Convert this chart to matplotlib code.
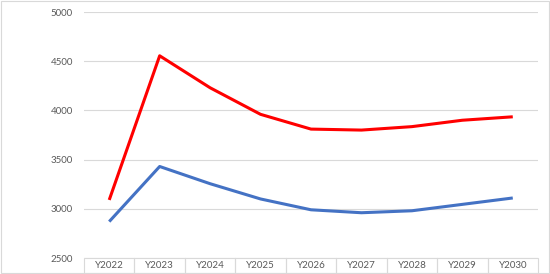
import matplotlib
matplotlib.use('Agg')
import matplotlib.pyplot as plt
from matplotlib.patches import Rectangle

# data
years = ['Y2022', 'Y2023', 'Y2024', 'Y2025', 'Y2026', 'Y2027', 'Y2028', 'Y2029', 'Y2030']
red_series = [3090, 4555, 4230, 3960, 3810, 3800, 3835, 3900, 3935]
blue_series = [2870, 3430, 3255, 3100, 2990, 2960, 2980, 3045, 3110]
y_ticks = [2500, 3000, 3500, 4000, 4500, 5000]

plt.rcParams['font.family'] = ['Lato', 'DejaVu Sans']

fig = plt.figure(figsize=(5.5, 2.74), dpi=100)
ax = fig.add_axes([84 / 550, 1 - 258 / 274, (538 - 84) / 550, (258 - 12) / 274])

x = list(range(len(years)))
ax.plot(x, red_series, color='#FF0000', lw=2.2, solid_capstyle='butt', zorder=3)
ax.plot(x, blue_series, color='#4472C4', lw=2.2, solid_capstyle='butt', zorder=3)

ax.set_xlim(-0.5, len(years) - 0.5)
ax.set_ylim(2500, 5000)
ax.set_yticks(y_ticks)
ax.set_yticklabels([str(v) for v in y_ticks], fontsize=7, color='#595959')
ax.tick_params(axis='y', length=0, pad=8)
ax.set_xticks([])
for v in y_ticks:
    ax.axhline(v, color='#D9D9D9', lw=0.8, zorder=1)
for s in ax.spines.values():
    s.set_visible(False)

# table-style category axis under the plot
trans = ax.get_xaxis_transform()
tbl_h = 15 / 246
for i, name in enumerate(years):
    ax.add_patch(Rectangle((i - 0.5, -tbl_h), 1, tbl_h, transform=trans,
                           fill=False, ec='#D9D9D9', lw=0.8, clip_on=False))
    ax.text(i, -tbl_h / 2, name, transform=trans, ha='center', va='center',
            fontsize=7, color='#595959', clip_on=False)

# light chart-area border
fig.add_artist(Rectangle((0.001, 0.002), 0.997, 0.995, transform=fig.transFigure,
                         fill=False, ec='#D9D9D9', lw=0.8))

fig.savefig('out.png', dpi=100)
